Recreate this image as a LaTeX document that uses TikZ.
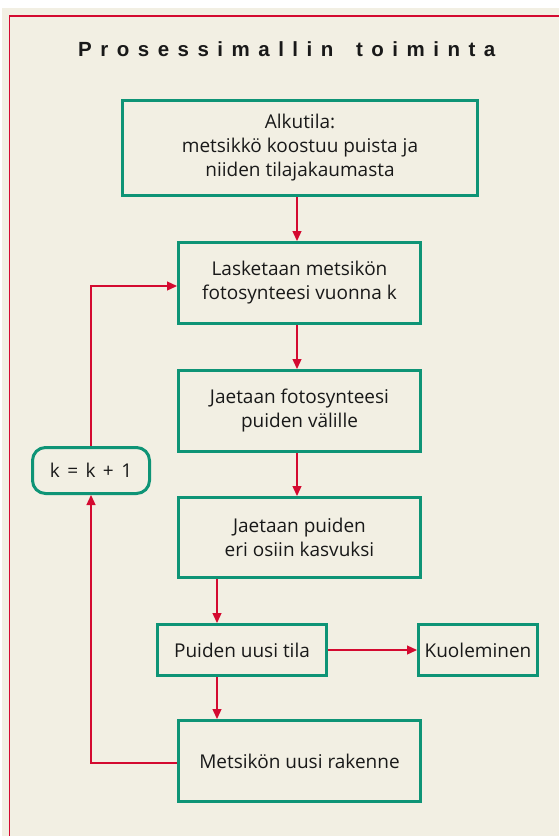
\documentclass[tikz,border=0pt]{standalone}
\usepackage{fontspec}
\setmainfont{Open Sans}
\newfontfamily\titlefont{Liberation Sans}
\usetikzlibrary{arrows.meta}
\definecolor{bgbeige}{RGB}{242,239,227}
\definecolor{boxgreen}{RGB}{14,148,118}
\definecolor{linered}{RGB}{212,10,48}
\definecolor{txt}{RGB}{25,25,25}
\newdimen\lsp
\lsp=8.5pt
\def\spreadtext#1{\spreadaux#1\relax}
\def\spreadaux#1{\ifx#1\relax\else#1\hskip\lsp\expandafter\spreadaux\fi}
\newcommand\kgap{\hspace{2.5pt}}
\tikzset{
  procbox/.style={draw=boxgreen, line width=3pt, fill=bgbeige, rectangle, align=center,
    text=txt, font=\fontsize{19}{24}\selectfont, inner sep=0pt},
  roundbox/.style={procbox, rounded corners=13pt},
  conn/.style={draw=linered, line width=1.3pt},
  arr/.style={conn, -{Triangle[length=10pt,width=9pt]}}
}
\begin{document}
\begin{tikzpicture}[x=1pt,y=-1pt]
\useasboundingbox (0,0) rectangle (559,836);
\fill[white] (0,0) rectangle (559,836);
\fill[bgbeige] (2,8) rectangle (559,836);
\draw[conn] (9.5,836) -- (9.5,16) -- (559,16);
\node[anchor=base west, text=txt, font=\titlefont\bfseries\fontsize{20.5}{22}\selectfont, inner sep=0pt]
  (title) at (78,56) {\spreadtext{Prosessimallin~toiminta}};

\node[procbox, minimum width=355pt, minimum height=95pt] (b1) at (300,148)
  {Alkutila:\\metsikkö koostuu puista ja\\niiden tilajakaumasta};
\node[procbox, minimum width=242pt, minimum height=81pt] (b2) at (299.5,283)
  {Lasketaan metsikön\\fotosynteesi vuonna k};
\node[procbox, minimum width=242pt, minimum height=81pt] (b3) at (299.5,411)
  {Jaetaan fotosynteesi\\puiden välille};
\node[procbox, minimum width=242pt, minimum height=80pt] (b4) at (299.5,537.5)
  {Jaetaan puiden\\eri osiin kasvuksi};
\node[procbox, minimum width=169pt, minimum height=51pt] (b5) at (242,650)
  {Puiden uusi tila};
\node[procbox, minimum width=119pt, minimum height=51pt] (b7) at (478,650)
  {Kuoleminen};
\node[procbox, minimum width=242pt, minimum height=81pt] (b6) at (299.5,761)
  {Metsikön uusi rakenne};
\node[roundbox, minimum width=117pt, minimum height=46pt] (k) at (91,470.5)
  {k\kgap{} = \kgap{}k\kgap{} + \kgap{}1};

\coordinate (xa) at (297,0);
\coordinate (xb) at (217,0);
\draw[arr] (b1.south -| xa) -- (b2.north -| xa);
\draw[arr] (b2.south -| xa) -- (b3.north -| xa);
\draw[arr] (b3.south -| xa) -- (b4.north -| xa);
\draw[arr] (b4.south -| xb) -- (b5.north -| xb);
\draw[arr] (b5.south -| xb) -- (b6.north -| xb);
\draw[arr] (b5.east) -- (b7.west);
\draw[arr] ([yshift=-2pt]b6.west) -| (k.south);
\draw[arr] (k.north) |- ([yshift=-3pt]b2.west);
\end{tikzpicture}
\end{document}
